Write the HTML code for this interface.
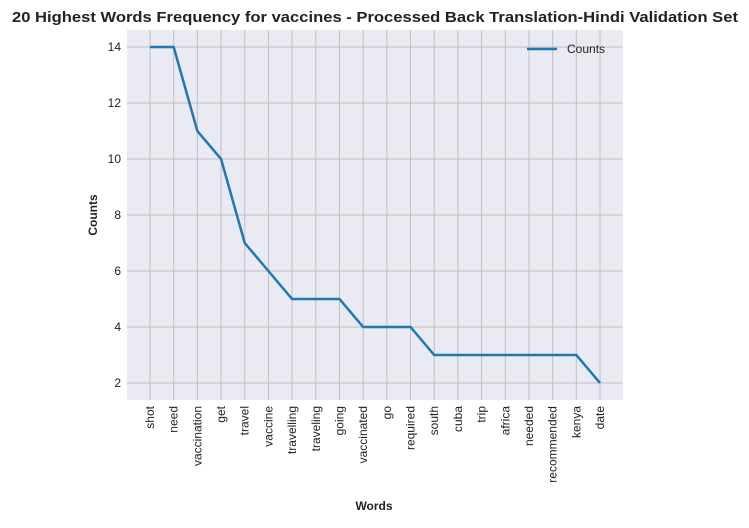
<!DOCTYPE html>
<html><head><style>
body{margin:0;background:#fff;}
svg{font-family:"Liberation Sans",Arial,sans-serif;}
</style></head><body>
<svg width="749" height="523">
<text x="375" y="22" text-anchor="middle" font-size="15" font-weight="bold" fill="#222" textLength="726" lengthAdjust="spacingAndGlyphs">20 Highest Words Frequency for vaccines - Processed Back Translation-Hindi Validation Set</text>
<rect x="127" y="30" width="496" height="370" fill="#eaeaf2"/>
<g id="grid"></g>
<g id="ticks"></g>
<path id="line" fill="none" stroke="#1f77b4" stroke-width="2.5"/>
<text x="374" y="510" text-anchor="middle" font-size="12" font-weight="bold" fill="#222">Words</text>
<text transform="translate(97,215) rotate(-90)" text-anchor="middle" font-size="12" font-weight="bold" fill="#222">Counts</text>
<g>
<line x1="527" y1="49" x2="557" y2="49" stroke="#1f77b4" stroke-width="2.5"/>
<text x="567" y="53" font-size="12" fill="#222">Counts</text>
</g>
</svg>
<script>
const words=["shot","need","vaccination","get","travel","vaccine","travelling","traveling","going","vaccinated","go","required","south","cuba","trip","africa","needed","recommended","kenya","date"];
const counts=[14,14,11,10,7,6,5,5,5,4,4,4,3,3,3,3,3,3,3,2];
const yTicks=[2,4,6,8,10,12,14];
const NS="http://www.w3.org/2000/svg";
const xs=i=>150+i*(450/(words.length-1));
const ys=v=>383-(v-2)*28;
const grid=document.getElementById('grid'),ticks=document.getElementById('ticks');
function mk(tag,attrs,parent){const e=document.createElementNS(NS,tag);for(const k in attrs)e.setAttribute(k,attrs[k]);parent.appendChild(e);return e;}
yTicks.forEach(v=>{
 const l=mk('line',{x1:127,x2:623,y1:ys(v),y2:ys(v),stroke:'#c0c0c0','stroke-width':1},grid);
 
 
 const t=mk('text',{x:121,y:ys(v)+4,'text-anchor':'end','font-size':12,fill:'#222'},ticks);
 t.textContent=v;
 
 
});
words.forEach((w,i)=>{
 const l=mk('line',{x1:xs(i),x2:xs(i),y1:30,y2:400,stroke:'#c0c0c0','stroke-width':1},grid);
 
 
 const t=mk('text',{transform:`translate(${xs(i)+4},406) rotate(-90)`,'text-anchor':'end','font-size':12,fill:'#222'},ticks);
 t.textContent=w;
 
 
});
document.getElementById('line').setAttribute('d',counts.map((c,i)=>(i?'L':'M')+xs(i)+','+ys(c)).join(' '));
</script>
</body></html>
